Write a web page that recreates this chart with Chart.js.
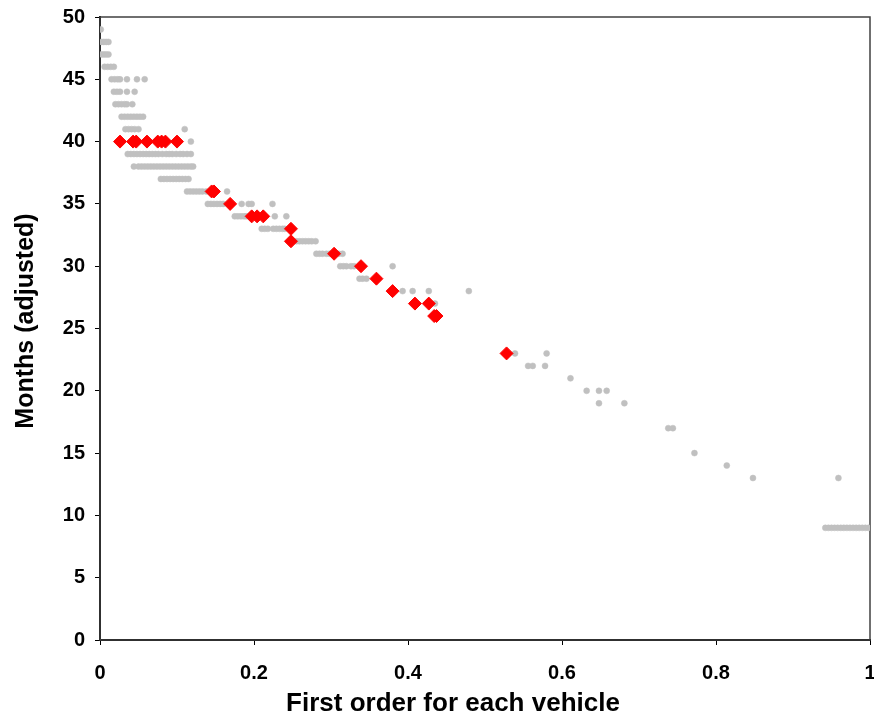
<!DOCTYPE html>
<html>
<head>
<meta charset="utf-8">
<script src="https://cdn.jsdelivr.net/npm/chart.js@4.4.1/dist/chart.umd.min.js"></script>
<style>
    body { margin: 0; background: #ffffff; }
    #wrap { width: 874px; height: 715px; }
</style>
</head>
<body>
<div id="wrap"><canvas id="myChart"></canvas></div>
<script>
// gray points: every vehicle, grouped by month row
const grayX = [
    0.001,
    0.002, 0.005, 0.008, 0.011,
    0.002, 0.005, 0.008, 0.011,
    0.006, 0.010, 0.014, 0.018,
    0.015, 0.019, 0.023, 0.026, 0.035, 0.048, 0.058,
    0.018, 0.022, 0.026, 0.035, 0.045,
    0.020, 0.024, 0.028, 0.032, 0.035, 0.042,
    0.028, 0.032, 0.036, 0.040, 0.044, 0.048, 0.052, 0.056,
    0.033, 0.037, 0.041, 0.045, 0.050, 0.110,
    0.118,
    0.036, 0.040, 0.044, 0.048, 0.052, 0.056, 0.060, 0.064, 0.068, 0.072, 0.076, 0.081, 0.086, 0.090, 0.094, 0.099, 0.104, 0.108, 0.113, 0.118,
    0.044, 0.050, 0.054, 0.058, 0.062, 0.066, 0.070, 0.074, 0.078, 0.082, 0.086, 0.090, 0.094, 0.098, 0.102, 0.106, 0.110, 0.114, 0.118, 0.121,
    0.079, 0.083, 0.087, 0.091, 0.095, 0.099, 0.103, 0.107, 0.111, 0.115,
    0.113, 0.117, 0.121, 0.125, 0.129, 0.133, 0.138, 0.165,
    0.140, 0.144, 0.148, 0.152, 0.156, 0.160, 0.184, 0.193, 0.197, 0.224,
    0.175, 0.179, 0.183, 0.187, 0.190, 0.227, 0.242,
    0.210, 0.214, 0.218, 0.225, 0.229, 0.233, 0.237, 0.240,
    0.255, 0.259, 0.263, 0.267, 0.271, 0.275, 0.280,
    0.281, 0.285, 0.289, 0.294, 0.298, 0.310, 0.315,
    0.312, 0.316, 0.320, 0.326, 0.330, 0.380,
    0.337, 0.341, 0.346,
    0.393, 0.406, 0.427, 0.479,
    0.435,
    0.539, 0.580,
    0.556, 0.562, 0.578,
    0.611,
    0.632, 0.648, 0.658,
    0.648, 0.681,
    0.738, 0.744,
    0.772,
    0.814,
    0.848, 0.959,
    0.942, 0.946, 0.950, 0.954, 0.958, 0.962, 0.966, 0.970, 0.974, 0.978, 0.982, 0.986, 0.990, 0.994, 0.998
];
const grayY = [
    49,
    48, 48, 48, 48,
    47, 47, 47, 47,
    46, 46, 46, 46,
    45, 45, 45, 45, 45, 45, 45,
    44, 44, 44, 44, 44,
    43, 43, 43, 43, 43, 43,
    42, 42, 42, 42, 42, 42, 42, 42,
    41, 41, 41, 41, 41, 41,
    40,
    39, 39, 39, 39, 39, 39, 39, 39, 39, 39, 39, 39, 39, 39, 39, 39, 39, 39, 39, 39,
    38, 38, 38, 38, 38, 38, 38, 38, 38, 38, 38, 38, 38, 38, 38, 38, 38, 38, 38, 38,
    37, 37, 37, 37, 37, 37, 37, 37, 37, 37,
    36, 36, 36, 36, 36, 36, 36, 36,
    35, 35, 35, 35, 35, 35, 35, 35, 35, 35,
    34, 34, 34, 34, 34, 34, 34,
    33, 33, 33, 33, 33, 33, 33, 33,
    32, 32, 32, 32, 32, 32, 32,
    31, 31, 31, 31, 31, 31, 31,
    30, 30, 30, 30, 30, 30,
    29, 29, 29,
    28, 28, 28, 28,
    27,
    23, 23,
    22, 22, 22,
    21,
    20, 20, 20,
    19, 19,
    17, 17,
    15,
    14,
    13, 13,
    9, 9, 9, 9, 9, 9, 9, 9, 9, 9, 9, 9, 9, 9, 9
];

// red diamonds
const redX = [0.026, 0.043, 0.047, 0.061, 0.075, 0.080, 0.085, 0.100,
    0.145, 0.148, 0.169, 0.197, 0.204, 0.212, 0.248, 0.248,
    0.304, 0.339, 0.359, 0.380, 0.409, 0.427, 0.434, 0.437, 0.528];
const redY = [40, 40, 40, 40, 40, 40, 40, 40,
    36, 36, 35, 34, 34, 34, 33, 32,
    31, 30, 29, 28, 27, 27, 26, 26, 23];

const xTicks = [0, 0.2, 0.4, 0.6, 0.8, 1];
const yTicks = [0, 5, 10, 15, 20, 25, 30, 35, 40, 45, 50];

const xTitle = 'First order for each vehicle';
const yTitle = 'Months (adjusted)';

const FONT = "'Liberation Sans', Arial, sans-serif";

const toPoints = (xs, ys) => xs.map((x, i) => ({ x: x, y: ys[i] }));

// box round the plot area plus the two axis titles
const frame = {
    id: 'frame',
    beforeDatasetsDraw(chart) {
        const a = chart.chartArea;
        const c = chart.ctx;
        c.save();
        c.strokeStyle = '#404040';
        c.lineWidth = 1.5;
        c.strokeRect(a.left, a.top, a.right - a.left, a.bottom - a.top);
        c.restore();
    },
    afterDraw(chart) {
        const c = chart.ctx;
        c.save();
        c.fillStyle = '#000000';
        c.textAlign = 'center';
        c.textBaseline = 'alphabetic';
        c.font = 'bold 26px ' + FONT;
        c.fillText(xTitle, 453, 711);
        c.translate(33, 321);
        c.rotate(-Math.PI / 2);
        c.font = 'bold 25px ' + FONT;
        c.fillText(yTitle, 0, 0);
        c.restore();
    }
};

const ctx = document.getElementById('myChart');

new Chart(ctx, {
    type: 'scatter',
    data: {
        datasets: [{
            label: 'selected',
            data: toPoints(redX, redY),
            pointStyle: 'rectRot',
            pointRadius: 6.5,
            backgroundColor: '#ff0000',
            borderColor: '#ff0000',
            borderWidth: 1
        }, {
            label: 'all',
            data: toPoints(grayX, grayY),
            pointStyle: 'circle',
            pointRadius: 3,
            backgroundColor: '#c0c0c0',
            borderColor: '#c0c0c0',
            borderWidth: 0.5
        }]
    },
    options: {
        responsive: true,
        maintainAspectRatio: false,
        animation: false,
        layout: { autoPadding: false, padding: { top: 17, right: 4, left: 0, bottom: 0 } },
        plugins: {
            legend: { display: false },
            tooltip: { enabled: false }
        },
        scales: {
            x: {
                type: 'linear',
                min: 0,
                max: 1,
                afterBuildTicks: (axis) => { axis.ticks = xTicks.map(v => ({ value: v })); },
                afterFit: (axis) => {
                    axis.height = 75;
                    axis.paddingLeft = 0;
                    axis.paddingRight = 0;
                },
                grid: { drawOnChartArea: false, drawTicks: true, tickLength: 5, color: '#000000', lineWidth: 1 },
                border: { display: true, color: '#000000', width: 2 },
                ticks: {
                    color: '#000000',
                    padding: 16,
                    font: { family: FONT, size: 20, weight: 'bold' },
                    callback: (v) => String(v)
                }
            },
            y: {
                type: 'linear',
                min: 0,
                max: 50,
                afterBuildTicks: (axis) => { axis.ticks = yTicks.map(v => ({ value: v })); },
                afterFit: (axis) => {
                    axis.width = 100;
                    axis.paddingTop = 0;
                    axis.paddingBottom = 0;
                },
                grid: { drawOnChartArea: false, drawTicks: true, tickLength: 5, color: '#000000', lineWidth: 1 },
                border: { display: true, color: '#000000', width: 2 },
                ticks: {
                    color: '#000000',
                    padding: 10,
                    font: { family: FONT, size: 20, weight: 'bold' }
                }
            }
        }
    },
    plugins: [frame]
});
</script>
</body>
</html>
